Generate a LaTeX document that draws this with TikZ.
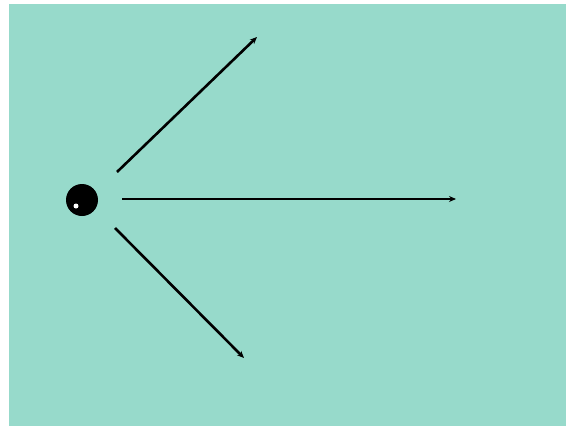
\documentclass[tikz,border=0pt]{standalone}
\usetikzlibrary{arrows.meta}
\definecolor{bgteal}{RGB}{151,218,203}
\tikzset{
  ray/.style={line width=2.6pt, -{Stealth[length=7pt,width=6pt]}},
}
\begin{document}
\begin{tikzpicture}[x=1pt,y=-1pt]
  \useasboundingbox (0,0) rectangle (566,426);
  \fill[white] (0,0) rectangle (566,426);
  \fill[bgteal] (9,4) rectangle (566,426);
  \node[circle, fill=black, minimum size=32pt, inner sep=0pt] (ball) at (82,200) {};
  \fill[white] (76,206) circle (2.5pt);
  \coordinate (u0) at (117,172);
  \coordinate (u1) at (257,37);
  \coordinate (m0) at (122,199);
  \coordinate (m1) at (456,199);
  \coordinate (d0) at (115,228);
  \coordinate (d1) at (244,358);
  \draw[ray] (u0) -- (u1);
  \draw[ray] (m0) -- (m1);
  \draw[ray] (d0) -- (d1);
\end{tikzpicture}
\end{document}
